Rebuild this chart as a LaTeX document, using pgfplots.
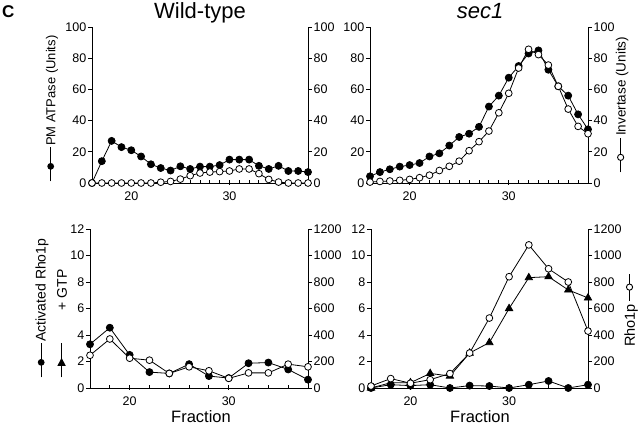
\documentclass[border=0pt]{standalone}
\usepackage{fontspec}
\setmainfont{Liberation Sans}
\usepackage{pgfplots}
\pgfplotsset{compat=1.18}

\newcommand{\symFC}{\tikz[baseline=-0.36em]{\draw[line width=0.9pt] (0pt,0pt)--(34pt,0pt); \fill (15pt,0pt) circle (3.4pt);}}
\newcommand{\symOC}{\tikz[baseline=-0.36em]{\draw[line width=0.9pt] (0pt,0pt)--(34pt,0pt); \draw[line width=0.9pt, fill=white] (15pt,0pt) circle (3.1pt);}}
\newcommand{\symTR}{\tikz[baseline=-0.36em]{\draw[line width=0.9pt] (0pt,0pt)--(34pt,0pt); \fill (19.5pt,0pt)--(11.5pt,4.2pt)--(11.5pt,-4.2pt)--cycle;}}
\newcommand{\symOCc}{\tikz[baseline=-0.36em]{\draw[line width=0.9pt] (0pt,0pt)--(27pt,0pt); \draw[line width=0.9pt, fill=white] (13.5pt,0pt) circle (3.1pt);}}

\pgfplotsset{
 base/.style={scale only axis, xmin=16, xmax=38, clip=false,
  axis line style={line width=1pt},
  tick style={black, line width=0.9pt},
  tick align=outside, major tick length=4pt, minor tick length=3pt,
  tick label style={font=\fontsize{12.5}{14}\selectfont},
  /pgf/number format/assume math mode=true,
  /pgf/number format/1000 sep={},
  scaled y ticks=false,
  anchor=south west,
  yticklabel style={inner sep=1.5pt}},
 L/.style={base, axis x line*=bottom, axis y line*=left, xtick={20,30},
   major x tick style={yshift=2.5pt}, minor x tick style={yshift=3pt},
   xticklabel style={yshift=-1.5pt}},
 R/.style={base, axis x line=none, axis y line*=right, xtick=\empty},
 fc/.style={black, line width=0.8pt, mark=*, mark size=3.5pt, mark options={fill=black, solid}},
 oc/.style={black, line width=0.8pt, mark=*, mark size=3.4pt, mark options={fill=white, draw=black, solid}},
 tr/.style={black, line width=0.8pt, mark=triangle*, mark size=4.2pt, mark options={fill=black, solid}},
}

\begin{document}
\begin{tikzpicture}[x=1pt,y=1pt]
\useasboundingbox (0,0) rectangle (640,424);

% ---------- top-left: Wild-type ----------
\begin{axis}[L, at={(92pt,241pt)}, width=216pt, height=156pt, ymin=0, ymax=100, ytick={0,20,...,100}, minor xtick={16,...,38}]
\addplot[fc] coordinates {(16,0)(17,14)(18,27)(19,23)(20,21)(21,17)(22,12)(23,9.6)(24,8)(25,10.7)(26,9)(27,10.5)(28,10.5)(29,11.5)(30,15)(31,15)(32,15)(33,11)(34,9)(35,11)(36,7.7)(37,7.7)(38,7)};
\end{axis}
\begin{axis}[R, at={(92pt,241pt)}, width=216pt, height=156pt, ymin=0, ymax=100, ytick={0,20,...,100}]
\addplot[oc] coordinates {(16,0)(17,0)(18,0)(19,0)(20,0)(21,0)(22,0)(23,0.5)(24,1)(25,2.5)(26,4.7)(27,6.4)(28,7)(29,7.3)(30,7.7)(31,9)(32,9)(33,6)(34,2.3)(35,0.6)(36,0)(37,0)(38,0)};
\end{axis}

% ---------- top-right: sec1 ----------
\begin{axis}[L, at={(370pt,241pt)}, width=218pt, height=156pt, ymin=0, ymax=100, ytick={0,20,...,100}, minor xtick={16,...,38}]
\addplot[fc] coordinates {(16,4.3)(17,7)(18,8.8)(19,10.5)(20,11.5)(21,12.8)(22,17)(23,19)(24,24)(25,29.5)(26,31.6)(27,36)(28,49)(29,56)(30,67.5)(31,75)(32,83)(33,85)(34,72.6)(35,62)(36,56)(37,44)(38,34.4)};
\end{axis}
\begin{axis}[R, at={(370pt,241pt)}, width=218pt, height=156pt, ymin=0, ymax=100, ytick={0,20,...,100}]
\addplot[oc] coordinates {(16,0.6)(17,1)(18,1.3)(19,1.7)(20,2.3)(21,3.4)(22,5)(23,8)(24,10.7)(25,14)(26,20.7)(27,26.5)(28,33.3)(29,45)(30,57.5)(31,73.7)(32,85.7)(33,82.3)(34,75.6)(35,62)(36,47.4)(37,36.3)(38,31.6)};
\end{axis}

% ---------- bottom-left ----------
\begin{axis}[L, at={(90pt,36pt)}, width=218pt, height=159pt, ymin=0, ymax=12, ytick={0,2,...,12}, minor xtick={16,18,...,38}]
\addplot[fc] coordinates {(16,3.3)(18,4.55)(20,2.5)(22,1.2)(24,1.1)(26,1.8)(28,0.9)(30,0.75)(32,1.87)(34,1.92)(36,1.4)(38,0.63)};
\end{axis}
\begin{axis}[R, at={(90pt,36pt)}, width=218pt, height=159pt, ymin=0, ymax=1200, ytick={0,200,...,1200}]
\addplot[oc] coordinates {(16,247)(18,370)(20,225)(22,210)(24,110)(26,160)(28,130)(30,73)(32,114)(34,114)(36,180)(38,160)};
\end{axis}

% ---------- bottom-right ----------
\begin{axis}[L, at={(371pt,36pt)}, width=217pt, height=159pt, ymin=0, ymax=12, ytick={0,2,...,12}, minor xtick={16,18,...,38}]
\addplot[tr] coordinates {(16,0)(18,0.4)(20,0.4)(22,1.1)(24,0.9)(26,2.64)(28,3.43)(30,6.0)(32,8.33)(34,8.4)(36,7.4)(38,6.8)};
\addplot[fc] coordinates {(16,0)(18,0.25)(20,0.18)(22,0.25)(24,0)(26,0.18)(28,0.15)(30,0)(32,0.25)(34,0.53)(36,0)(38,0.25)};
\end{axis}
\begin{axis}[R, at={(371pt,36pt)}, width=217pt, height=159pt, ymin=0, ymax=1200, ytick={0,200,...,1200}]
\addplot[oc] coordinates {(16,15)(18,71)(20,36)(22,63)(24,109)(26,264)(28,528)(30,840)(32,1080)(34,900)(36,800)(38,430)};
\end{axis}

% ---------- titles and labels ----------
\node[font=\fontsize{22}{24}\selectfont, anchor=base] at (200,405) {Wild-type};
\node[font=\fontsize{22}{24}\selectfont\itshape, anchor=base] at (480,405) {sec1};
\node[font=\fontsize{17}{19}\selectfont\bfseries, anchor=base west, inner sep=0pt] at (2,406) {C};
\node[font=\fontsize{16.5}{18}\selectfont, anchor=base, inner sep=0pt] at (201,2) {Fraction};
\node[font=\fontsize{16.5}{18}\selectfont, anchor=base, inner sep=0pt] at (480,2) {Fraction};

\node[rotate=90, anchor=west, inner sep=0pt, font=\fontsize{13}{15}\selectfont] at (52,242) {\symFC\hspace{1pt}PM ATPase (Units)};
\node[rotate=90, anchor=west, inner sep=0pt, font=\fontsize{13.5}{15}\selectfont] at (622,251) {\symOC\hspace{2pt}Invertase (Units)};
\node[rotate=90, inner sep=0pt, font=\fontsize{14}{16}\selectfont] at (42,134) {Activated Rho1p};
\node[rotate=90, inner sep=0pt, font=\fontsize{14}{16}\selectfont] at (62,134) {+ GTP};
\node[rotate=90, anchor=west, inner sep=0pt, font=\fontsize{14}{16}\selectfont] at (42,46) {\symFC};
\node[rotate=90, anchor=west, inner sep=0pt, font=\fontsize{14}{16}\selectfont] at (62,46) {\symTR};
\node[rotate=90, anchor=west, inner sep=0pt, font=\fontsize{14.5}{16}\selectfont] at (631,77) {Rho1p\hspace{3pt}\symOCc};
\end{tikzpicture}
\end{document}
